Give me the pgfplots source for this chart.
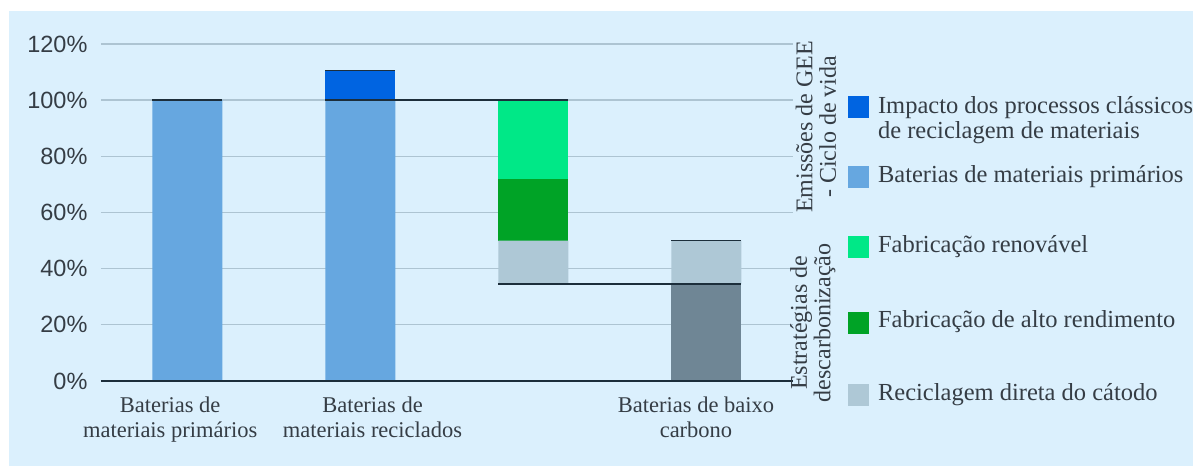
\documentclass[border=0pt]{standalone}
\usepackage{pgfplots}
\pgfplotsset{compat=1.18}
\usepackage{fontspec}
\setmainfont{Liberation Serif}
\newfontfamily\ticksans{Liberation Sans}

\definecolor{panel}{HTML}{DBF0FD}
\definecolor{gridc}{HTML}{ADC4D2}
\definecolor{ink}{HTML}{1C2E3B}
\definecolor{txt}{HTML}{353D45}
\definecolor{primblue}{HTML}{66A7E0}
\definecolor{impblue}{HTML}{0064E1}
\definecolor{renov}{HTML}{00E887}
\definecolor{altor}{HTML}{00A326}
\definecolor{catodo}{HTML}{AEC8D6}
\definecolor{baixo}{HTML}{6F8695}

\pgfplotsset{
  frame/.style={
    at={(101pt,85pt)}, anchor=south west,
    scale only axis, width=692pt, height=337pt,
    xmin=-0.5, xmax=3.5, ymin=0, ymax=120,
    clip=false,
  },
}

\begin{document}
\begin{tikzpicture}[x=1pt,y=1pt]
% page and panel
\fill[white] (0,0) rectangle (1193,466);
\fill[panel] (9,0) rectangle (1193,455);

\begin{axis}[
  frame,
  axis line style={draw=none},
  major tick length=0pt,
  ytick={0,20,40,60,80,100,120},
  yticklabel={\pgfmathprintnumber{\tick}\%},
  yticklabel style={font=\fontsize{23.5}{27}\selectfont\ticksans, text=txt, xshift=-10pt},
  /pgf/number format/assume math mode=true,
  ymajorgrids, grid style={gridc, line width=1.3pt},
  % category captions sit slightly off the bar centres
  xtick={-0.1,1.07,2.94},
  xticklabels={{Baterias de\\materiais primários},{Baterias de\\materiais reciclados},{Baterias de baixo\\carbono}},
  xticklabel style={font=\fontsize{22.5}{25}\selectfont, text=txt, align=center, yshift=-12pt},
  ybar stacked, bar width=0.405,
]
% invisible base for the floating waterfall bar
\addplot[fill=none, draw=none] coordinates {(0,0) (1,0) (2,34.5) (3,0)};
\addplot[fill=primblue, draw=none] coordinates {(0,100) (1,100) (2,0) (3,0)};
\addplot[fill=baixo, draw=none] coordinates {(0,0) (1,0) (2,0) (3,34.5)};
\addplot[fill=impblue, draw=none] coordinates {(0,0) (1,10.5) (2,0) (3,0)};
\addplot[fill=catodo, draw=none] coordinates {(0,0) (1,0) (2,15.5) (3,15.5)};
\addplot[fill=altor, draw=none] coordinates {(0,0) (1,0) (2,22) (3,0)};
\addplot[fill=renov, draw=none] coordinates {(0,0) (1,0) (2,28) (3,0)};
\end{axis}

% baseline, bar tops and waterfall connectors
\begin{axis}[frame, hide axis]
\addplot[ink, line width=1.6pt] coordinates {(-0.5,0) (3.5,0)};
\addplot[ink, line width=1.3pt] coordinates {(-0.2025,100) (0.2025,100)};
\addplot[ink, line width=1.3pt] coordinates {(0.7975,110.5) (1.2025,110.5)};
\addplot[ink, line width=1.3pt] coordinates {(0.7975,100) (2.2025,100)};
\addplot[ink, line width=1.3pt] coordinates {(1.7975,34.5) (3.2025,34.5)};
\addplot[ink, line width=1.3pt] coordinates {(2.7975,50) (3.2025,50)};
\end{axis}

% group captions
\node[rotate=90, align=center, text=txt, font=\fontsize{24}{23.5}\selectfont, inner sep=0pt]
  at (816,339) {Emissões de GEE\\- Ciclo de vida};
\node[rotate=90, align=center, text=txt, font=\fontsize{24}{23.5}\selectfont, inner sep=0pt]
  at (813,143) {Estratégias de\\descarbonização};

% legend
\begin{scope}[every node/.style={anchor=west, text=txt, align=left, font=\fontsize{24.5}{25}\selectfont, inner sep=0pt}]
\fill[impblue] (848,348) rectangle (869,370);
\node at (878,345.5) {Impacto dos processos clássicos\\de reciclagem de materiais};
\fill[primblue] (848,278) rectangle (869,300);
\node at (878,289) {Baterias de materiais primários};
\fill[renov] (848,208) rectangle (869,230);
\node at (878,219) {Fabricação renovável};
\fill[altor] (848,132) rectangle (869,154);
\node at (878,144) {Fabricação de alto rendimento};
\fill[catodo] (848,60) rectangle (869,82);
\node at (878,71) {Reciclagem direta do cátodo};
\end{scope}
\end{tikzpicture}
\end{document}
